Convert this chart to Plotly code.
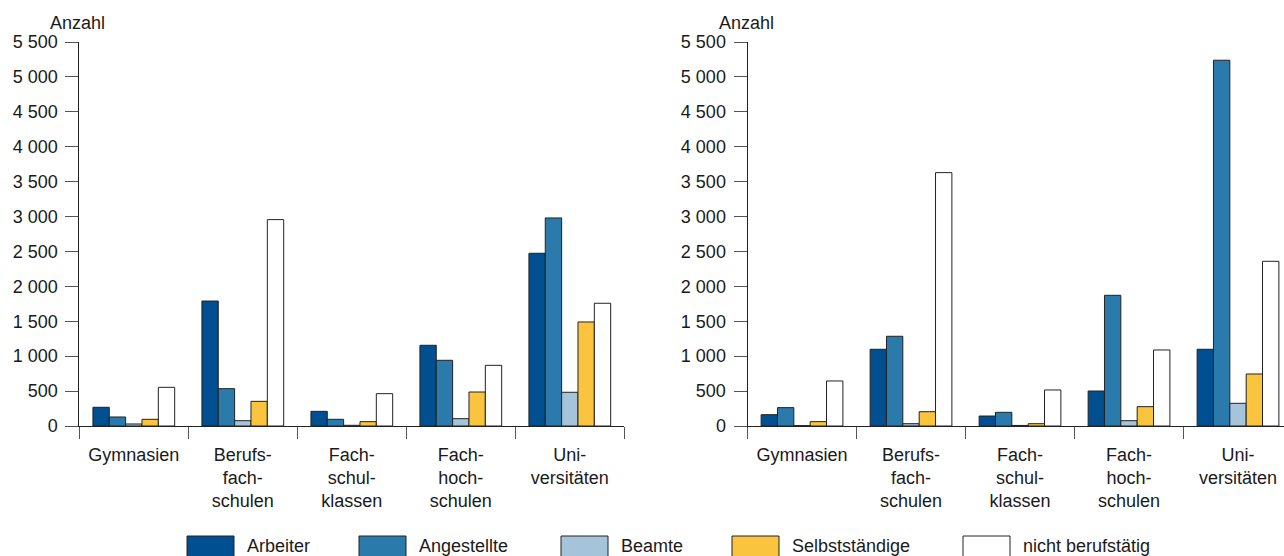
import plotly.graph_objects as go

# ---------------- data ----------------
categories = ["Gymnasien", "Berufs-<br>fach-<br>schulen", "Fach-<br>schul-<br>klassen",
              "Fach-<br>hoch-<br>schulen", "Uni-<br>versitäten"]
groups = ["Arbeiter", "Angestellte", "Beamte", "Selbstständige", "nicht berufstätig"]

left_arbeiter = [268, 1790, 210, 1156, 2474]
left_angestellte = [129, 535, 96, 941, 2980]
left_beamte = [29, 76, 10, 105, 483]
left_selbst = [96, 353, 62, 487, 1490]
left_nicht = [554, 2956, 463, 869, 1758]

right_arbeiter = [162, 1099, 143, 501, 1099]
right_angestellte = [263, 1285, 196, 1872, 5239]
right_beamte = [6, 33, 8, 76, 325]
right_selbst = [62, 205, 33, 277, 745]
right_nicht = [645, 3629, 516, 1089, 2359]

y_tickvals = [0, 500, 1000, 1500, 2000, 2500, 3000, 3500, 4000, 4500, 5000, 5500]
y_ticktext = ["0", "500", "1 000", "1 500", "2 000", "2 500", "3 000", "3 500",
              "4 000", "4 500", "5 000", "5 500"]
y_title = "Anzahl"

colors = ["#004f91", "#2a7bab", "#a6c4d9", "#fbc43f", "#ffffff"]

left_series = [left_arbeiter, left_angestellte, left_beamte, left_selbst, left_nicht]
right_series = [right_arbeiter, right_angestellte, right_beamte, right_selbst, right_nicht]

# ---------------- figure ----------------
W, H = 1284, 556
FONT = "Liberation Sans, Arial, Helvetica, sans-serif"
TXT = "#1a1a1a"

fig = go.Figure()
for name, vals, col in zip(groups, left_series, colors):
    fig.add_trace(go.Bar(x=categories, y=vals, name=name, marker_color=col,
                         marker_line=dict(color="#222222", width=1),
                         xaxis="x", yaxis="y", showlegend=False))
for name, vals, col in zip(groups, right_series, colors):
    fig.add_trace(go.Bar(x=categories, y=vals, name=name, marker_color=col,
                         marker_line=dict(color="#222222", width=1),
                         xaxis="x2", yaxis="y2", showlegend=False))

def px_x(p):
    return p / W

def px_y(p):
    return (H - p) / H

y_dom = [px_y(426), px_y(42)]
cat_w = 109.0
left_x0, left_x1 = 79.3, 79.3 + 5 * cat_w
right_x0 = 747.5
right_end = -0.5 + (W - right_x0) / cat_w

xaxis_common = dict(type="category", tickson="boundaries", ticks="outside", ticklen=12,
                     tickcolor="#555555", tickwidth=1, showline=True, linecolor="#222222",
                     linewidth=1, showgrid=False, zeroline=False, automargin=False,
                     ticklabelstandoff=12,
                     tickfont=dict(family=FONT, size=18, color=TXT), fixedrange=True)
yaxis_common = dict(range=[0, 5500], tickvals=y_tickvals, ticktext=y_ticktext,
                    ticks="outside", ticklen=13, tickcolor="#555555", tickwidth=1,
                    showline=True, linecolor="#222222", linewidth=1, showgrid=False,
                    zeroline=False, automargin=False, ticklabelstandoff=4,
                    tickfont=dict(family=FONT, size=18, color=TXT), fixedrange=True)

fig.update_layout(
    width=W, height=H, autosize=False,
    margin=dict(l=0, r=0, t=0, b=0, pad=0),
    paper_bgcolor="white", plot_bgcolor="white",
    barmode="group", bargap=0.25, bargroupgap=0,
    font=dict(family=FONT, size=18, color=TXT),
    xaxis=dict(domain=[px_x(left_x0), px_x(left_x1)], range=[-0.5, 4.5], anchor="y",
               **xaxis_common),
    yaxis=dict(domain=y_dom, anchor="x", **yaxis_common),
    xaxis2=dict(domain=[px_x(right_x0), 1.0], range=[-0.5, right_end], anchor="y2",
                **xaxis_common),
    yaxis2=dict(domain=y_dom, anchor="x2", **yaxis_common),
)

# axis titles "Anzahl"
for xp in (48, 716.5):
    fig.add_annotation(text=y_title, xref="paper", yref="paper", x=px_x(xp), y=px_y(23),
                       xanchor="left", yanchor="middle", showarrow=False,
                       font=dict(family=FONT, size=18, color=TXT))

# manual legend
swatch_x = [187, 359, 561, 732, 963]
for name, col, sx in zip(groups, colors, swatch_x):
    fig.add_shape(type="rect", xref="paper", yref="paper",
                  x0=px_x(sx), x1=px_x(sx + 47), y0=px_y(560), y1=px_y(536),
                  fillcolor=col, line=dict(color="#222222", width=1))
    fig.add_annotation(text=name, xref="paper", yref="paper", x=px_x(sx + 58), y=px_y(546),
                       xanchor="left", yanchor="middle", showarrow=False,
                       font=dict(family=FONT, size=18, color=TXT))

fig.write_html("out.html", config={"displayModeBar": False},
               post_script="document.body.style.margin='0';document.body.style.padding='0';")
